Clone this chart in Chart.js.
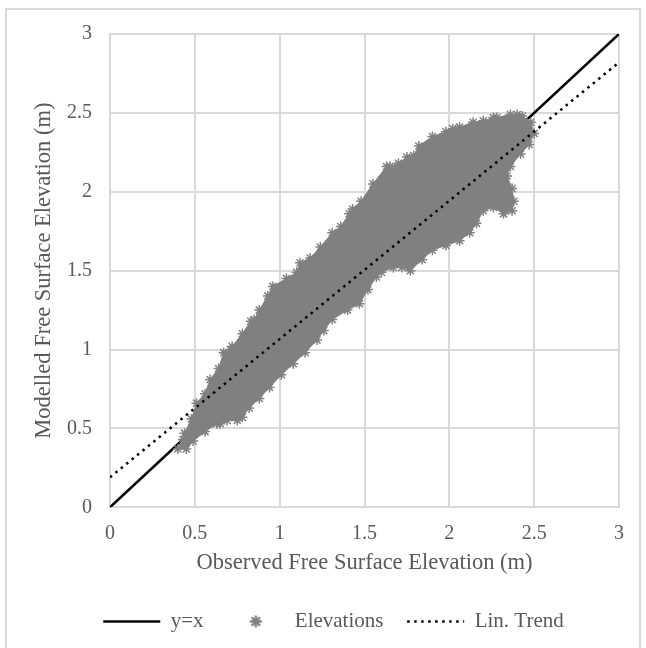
<!DOCTYPE html>
<html lang="en">
<head>
  <meta charset="UTF-8" />
  <title>Modelled vs Observed Free Surface Elevation</title>
  <script src="https://cdn.jsdelivr.net/npm/chart.js@4/dist/chart.umd.min.js"></script>
  <style>
    body {
      margin: 0;
      background: #fff;
    }
    #frame {
      position: absolute;
      left: 5px;
      top: 8px;
      width: 632px;
      height: 660px;
      border: 2px solid #d9d9d9;
    }
    #chart {
      position: absolute;
      left: 0;
      top: 0;
    }
  </style>
</head>
<body>
  <div id="frame"></div>
  <canvas id="chart" width="646" height="648"></canvas>

  <script>
    // outline of the modelled/observed point cloud (m), walked round its edge
    const cloudX = [0.40, 0.43, 0.44, 0.48, 0.51, 0.56, 0.59, 0.64, 0.67, 0.71,
                    0.72, 0.78, 0.83, 0.85, 0.88, 0.93, 0.96, 1.04, 1.10, 1.12,
                    1.18, 1.24, 1.31, 1.36, 1.41, 1.43, 1.48, 1.55, 1.63, 1.65,
                    1.70, 1.75, 1.79, 1.82, 1.90, 1.98, 2.02, 2.06, 2.14, 2.20,
                    2.26, 2.28, 2.36, 2.40, 2.43, 2.48, 2.50, 2.47, 2.42, 2.36,
                    2.34, 2.37, 2.38, 2.37, 2.32, 2.26, 2.20, 2.16, 2.12, 2.06,
                    1.98, 1.90, 1.84, 1.77, 1.72, 1.67, 1.60, 1.57, 1.52, 1.47,
                    1.40, 1.31, 1.26, 1.22, 1.15, 1.08, 1.01, 0.94, 0.88, 0.82,
                    0.78, 0.75, 0.69, 0.65, 0.63, 0.56, 0.49, 0.45];
    const cloudY = [0.37, 0.43, 0.47, 0.56, 0.66, 0.72, 0.81, 0.88, 0.98, 1.00,
                    1.02, 1.10, 1.18, 1.19, 1.25, 1.34, 1.40, 1.45, 1.49, 1.55,
                    1.58, 1.65, 1.74, 1.78, 1.86, 1.89, 1.94, 2.05, 2.16, 2.16,
                    2.18, 2.22, 2.23, 2.29, 2.35, 2.38, 2.40, 2.41, 2.44, 2.45,
                    2.47, 2.47, 2.49, 2.49, 2.48, 2.44, 2.37, 2.30, 2.24, 2.16,
                    2.10, 2.02, 1.94, 1.88, 1.86, 1.90, 1.88, 1.80, 1.74, 1.69,
                    1.66, 1.63, 1.57, 1.50, 1.52, 1.52, 1.49, 1.46, 1.38, 1.29,
                    1.25, 1.19, 1.12, 1.06, 0.98, 0.91, 0.84, 0.76, 0.69, 0.63,
                    0.57, 0.55, 0.55, 0.53, 0.53, 0.48, 0.42, 0.37];

    const identityX = [0, 3];
    const identityY = [0, 3];
    const trendX = [0, 3];
    const trendY = [0.19, 2.82];

    const tickLabels = ['0', '0.5', '1', '1.5', '2', '2.5', '3'];

    const textColor = '#595959';
    const gridColor = '#d9d9d9';
    const serif = "'Liberation Serif', 'Times New Roman', serif";

    const toPoints = (xs, ys) => xs.map((x, i) => ({ x: x, y: ys[i] }));

    // small star used as the legend swatch for the scatter
    function starIcon(size, color) {
      const c = document.createElement('canvas');
      c.width = c.height = size;
      const g = c.getContext('2d');
      const m = size / 2, r = size / 2 - 1.5;
      g.strokeStyle = color;
      g.lineWidth = 2.4;
      g.beginPath();
      for (let k = 0; k < 4; k++) {
        const t = k * Math.PI / 4;
        g.moveTo(m - r * Math.cos(t), m - r * Math.sin(t));
        g.lineTo(m + r * Math.cos(t), m + r * Math.sin(t));
      }
      g.stroke();
      return c;
    }
    const legendStar = starIcon(15, '#808080');

    Chart.defaults.font.family = serif;
    Chart.defaults.color = textColor;

    new Chart(document.getElementById('chart'), {
      type: 'line',
      data: {
        datasets: [
          {
            label: 'y=x',
            data: toPoints(identityX, identityY),
            borderColor: '#000',
            borderWidth: 2.5,
            pointRadius: 0,
            order: 2
          },
          {
            label: 'Elevations',
            data: toPoints(cloudX, cloudY),
            borderColor: '#808080',
            borderWidth: 1,
            backgroundColor: '#808080',
            fill: 'shape',
            tension: 0,
            pointStyle: 'star',
            pointRadius: 5,
            pointBorderWidth: 1.5,
            pointBorderColor: '#808080',
            pointBackgroundColor: '#808080',
            order: 1
          },
          {
            label: 'Lin. Trend',
            data: toPoints(trendX, trendY),
            borderColor: '#000',
            borderWidth: 2.5,
            borderDash: [2.5, 4.5],
            pointRadius: 0,
            order: 0
          }
        ]
      },
      options: {
        responsive: false,
        animation: false,
        layout: {
          padding: { left: 48, right: 27, top: 34, bottom: 6 }
        },
        scales: {
          x: {
            type: 'linear',
            min: 0,
            max: 3,
            ticks: {
              stepSize: 0.5,
              padding: 14,
              color: textColor,
              font: { size: 20 },
              callback: (v, i) => tickLabels[i]
            },
            grid: { color: gridColor, lineWidth: 2, drawTicks: false },
            border: { color: gridColor, width: 2 },
            title: {
              display: true,
              text: 'Observed Free Surface Elevation (m)',
              color: textColor,
              font: { size: 22.5 },
              padding: { top: 0, bottom: 11 }
            },
            afterFit(scale) { scale.height = 80; }
          },
          y: {
            min: 0,
            max: 3,
            ticks: {
              stepSize: 0.5,
              padding: 18,
              color: textColor,
              font: { size: 20 },
              callback: (v, i) => tickLabels[i]
            },
            grid: { color: gridColor, lineWidth: 2, drawTicks: false },
            border: { color: gridColor, width: 2 },
            title: {
              display: true,
              text: 'Modelled Free Surface Elevation (m)',
              color: textColor,
              font: { size: 22.5 },
              padding: { top: -17.5, bottom: 0 }
            },
            afterFit(scale) { scale.width = 62; }
          }
        },
        plugins: {
          tooltip: { enabled: false },
          legend: {
            position: 'bottom',
            labels: {
              usePointStyle: true,
              pointStyleWidth: 57,
              padding: 23.7,
              color: textColor,
              font: { size: 21 },
              generateLabels(chart) {
                const items = Chart.defaults.plugins.legend.labels.generateLabels(chart);
                items.sort((a, b) => a.datasetIndex - b.datasetIndex);
                items.forEach(item => {
                  const ds = chart.data.datasets[item.datasetIndex];
                  if (item.datasetIndex === 1) {
                    item.pointStyle = legendStar;
                  } else {
                    item.pointStyle = 'line';
                    item.strokeStyle = ds.borderColor;
                    item.lineWidth = ds.borderWidth;
                    item.lineDash = ds.borderDash || [];
                  }
                });
                return items;
              }
            }
          }
        }
      }
    });
  </script>
</body>
</html>
